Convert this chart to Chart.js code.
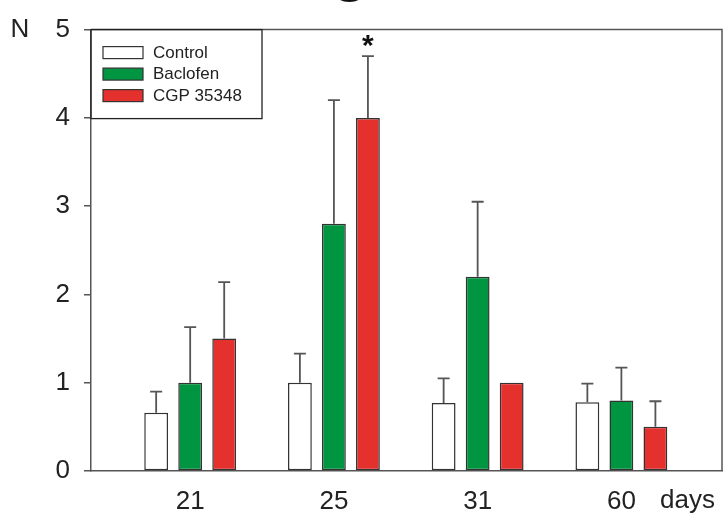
<!DOCTYPE html>
<html>
<head>
<meta charset="utf-8">
<script src="https://cdn.jsdelivr.net/npm/chart.js@4.4.1/dist/chart.umd.min.js"></script>
<style>
  html, body { margin: 0; padding: 0; background: #fff; }
  #wrap { width: 723px; height: 515px; }
</style>
</head>
<body>
<div id="wrap"><canvas id="chart" width="723" height="515"></canvas></div>
<script>
// данные
const days = ['21', '25', '31', '60'];
const groupPos = [0, 1, 2, 3];
const seriesNames = ['Control', 'Baclofen', 'CGP 35348'];

const controlVals = [0.66, 1.0, 0.77, 0.78];
const baclofenVals = [1.0, 2.8, 2.2, 0.8];
const cgpVals = [1.5, 4.0, 1.0, 0.5];

// верхняя половина "усов" (SEM)
const controlErr = [0.24, 0.33, 0.28, 0.21];
const baclofenErr = [0.63, 1.4, 0.85, 0.37];
const cgpErr = [0.64, 0.7, 0, 0.29];

const yTicks = [0, 1, 2, 3, 4, 5];
const xUnit = 'days';
const xUnitPos = 3.46;

const FONT = "'Liberation Sans', Arial, sans-serif";

function toPoints(vals) {
    return vals.map((v, i) => ({ x: groupPos[i], y: v }));
}

// усы над столбиками + звёздочка
const errorBars = {
    id: 'errorBars',
    afterDatasetsDraw(chart) {
        const ctx = chart.ctx;
        const yScale = chart.scales.y;
        ctx.save();
        ctx.strokeStyle = '#555';
        ctx.lineWidth = 1.8;
        chart.data.datasets.forEach((ds, di) => {
            const meta = chart.getDatasetMeta(di);
            meta.data.forEach((bar, i) => {
                const err = ds.errors[i];
                if (!err) return;
                const top = yScale.getPixelForValue(ds.data[i].y + err);
                ctx.beginPath();
                ctx.moveTo(bar.x, bar.y);
                ctx.lineTo(bar.x, top);
                ctx.moveTo(bar.x - 6, top);
                ctx.lineTo(bar.x + 6, top);
                ctx.stroke();
            });
        });
        // значимое отличие: CGP, 25 дней
        const cgpMeta = chart.getDatasetMeta(2);
        const b = cgpMeta.data[1];
        const starY = yScale.getPixelForValue(cgpVals[1] + cgpErr[1]);
        ctx.fillStyle = '#111';
        ctx.font = 'bold 30px ' + FONT;
        ctx.textAlign = 'center';
        ctx.textBaseline = 'alphabetic';
        ctx.fillText('*', b.x, starY - 1);
        ctx.restore();
    }
};

// рамка, легенда, подписи N и days
const frame = {
    id: 'frame',
    afterDraw(chart) {
        const { ctx, chartArea: a } = chart;
        ctx.save();
        ctx.strokeStyle = '#555';
        ctx.lineWidth = 1.5;
        ctx.beginPath();
        ctx.moveTo(a.left, a.top);
        ctx.lineTo(a.right, a.top);
        ctx.lineTo(a.right, a.bottom);
        ctx.stroke();

        // легенда в рамке
        const lx = a.left, ly = a.top;
        ctx.strokeStyle = '#222';
        ctx.lineWidth = 1.3;
        ctx.strokeRect(lx, ly, 171, 89);
        ctx.font = '17px ' + FONT;
        ctx.textBaseline = 'middle';
        ctx.textAlign = 'left';
        chart.data.datasets.forEach((ds, i) => {
            const y = ly + 17 + i * 21.5;
            ctx.fillStyle = ds.backgroundColor;
            ctx.fillRect(lx + 12, y, 40, 12);
            ctx.strokeStyle = '#333';
            ctx.lineWidth = 1.2;
            ctx.strokeRect(lx + 12, y, 40, 12);
            ctx.fillStyle = '#222';
            ctx.fillText(ds.label, lx + 62, y + 6.5);
        });

        ctx.fillStyle = '#222';
        ctx.font = '26px ' + FONT;
        ctx.textAlign = 'center';
        ctx.fillText('N', 20, a.top);
        // единицы оси X — в строке подписей
        ctx.fillText(xUnit, chart.scales.x.getPixelForValue(xUnitPos), a.bottom + 30);

        // обрезанный заголовок сверху
        ctx.font = 'bold 58px ' + FONT;
        ctx.fillStyle = '#111';
        ctx.textBaseline = 'alphabetic';
        ctx.fillText('g', 350, -10);
        ctx.restore();
    }
};

const ctx = document.getElementById('chart').getContext('2d');

const myChart = new Chart(ctx, {
    type: 'bar',
    data: {
        datasets: [
            {
                label: seriesNames[0],
                data: toPoints(controlVals),
                errors: controlErr,
                backgroundColor: '#ffffff',
                borderColor: '#333333',
                borderWidth: 1.5,
                borderSkipped: false
            },
            {
                label: seriesNames[1],
                data: toPoints(baclofenVals),
                errors: baclofenErr,
                backgroundColor: '#009540',
                borderColor: '#333333',
                borderWidth: 1.5,
                borderSkipped: false
            },
            {
                label: seriesNames[2],
                data: toPoints(cgpVals),
                errors: cgpErr,
                backgroundColor: '#e4312d',
                borderColor: '#333333',
                borderWidth: 1.5,
                borderSkipped: false
            }
        ]
    },
    options: {
        responsive: false,
        animation: false,
        devicePixelRatio: 1,
        categoryPercentage: 0.71,
        barPercentage: 0.7,
        layout: { padding: { top: 27, right: 1, left: 0, bottom: 0 } },
        scales: {
            x: {
                type: 'linear',
                min: -0.69,
                max: 3.70,
                offset: false,
                afterBuildTicks: (scale) => {
                    scale.ticks = groupPos.map(v => ({ value: v }));
                },
                afterFit: (scale) => { scale.height = 44; },
                ticks: {
                    autoSkip: false,
                    maxRotation: 0,
                    padding: 15,
                    color: '#222',
                    font: { family: FONT, size: 26 },
                    callback: (value, index) => days[index]
                },
                grid: { display: false, drawTicks: false, offset: false },
                border: { display: true, color: '#555', width: 1.5 }
            },
            y: {
                min: 0,
                max: 5,
                afterBuildTicks: (scale) => {
                    scale.ticks = yTicks.map(v => ({ value: v }));
                },
                afterFit: (scale) => { scale.width = 91; },
                ticks: {
                    padding: 14,
                    color: '#222',
                    font: { family: FONT, size: 26 }
                },
                grid: {
                    display: true,
                    drawOnChartArea: false,
                    drawTicks: true,
                    tickLength: 7,
                    color: '#555',
                    lineWidth: 1.5
                },
                border: { display: true, color: '#555', width: 1.5 }
            }
        },
        plugins: {
            legend: { display: false },
            tooltip: { enabled: false }
        }
    },
    plugins: [errorBars, frame]
});
</script>
</body>
</html>
